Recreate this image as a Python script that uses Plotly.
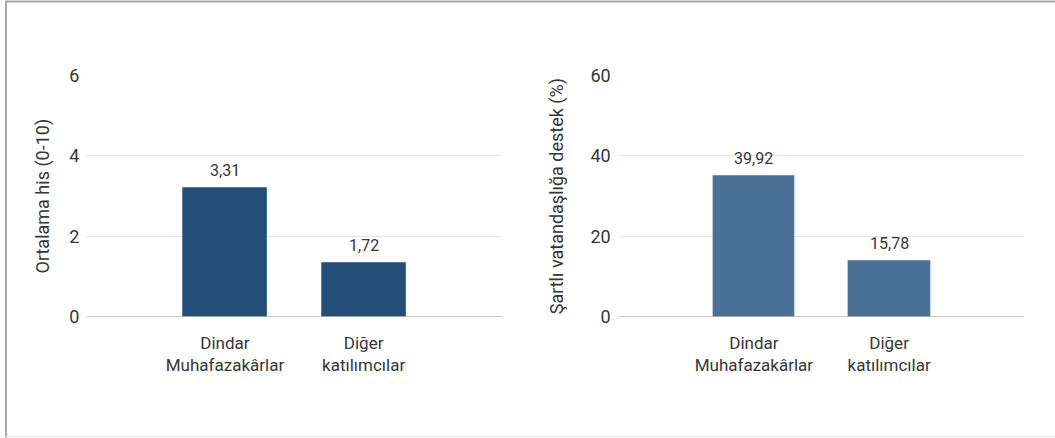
import plotly.graph_objects as go

W, H = 1055, 438

categories = ["Dindar<br>Muhafazakârlar", "Diğer<br>katılımcılar"]
feeling_values = [3.22, 1.36]
feeling_labels = ["3,31", "1,72"]
support_values = [35.2, 14.15]
support_labels = ["39,92", "15,78"]

left_ticks = [0, 2, 4, 6]
right_ticks = [0, 20, 40, 60]

FONT = "Roboto, Arial, sans-serif"
TXT = "#363636"

def px_x(p):
    return p / W

def px_y(p):
    return 1 - p / H

fig = go.Figure()
fig.add_trace(go.Bar(x=[0, 1], y=feeling_values, marker_color="#224e78",
                     width=0.61, xaxis="x", yaxis="y", showlegend=False, hoverinfo="skip"))
fig.add_trace(go.Bar(x=[0, 1], y=support_values, marker_color="#4b7096",
                     width=0.61, xaxis="x2", yaxis="y2", showlegend=False, hoverinfo="skip"))

ann = []
for i, (v, t) in enumerate(zip(feeling_values, feeling_labels)):
    ann.append(dict(x=i, y=v, text=t, xref="x", yref="y", showarrow=False,
                    yanchor="bottom", yshift=5, font=dict(size=16, color=TXT, family=FONT)))
for i, (v, t) in enumerate(zip(support_values, support_labels)):
    ann.append(dict(x=i, y=v, text=t, xref="x2", yref="y2", showarrow=False,
                    yanchor="bottom", yshift=5, font=dict(size=16, color=TXT, family=FONT)))

ytick_font = dict(size=18, color=TXT, family=FONT)
xtick_font = dict(size=17, color=TXT, family=FONT)

fig.update_layout(
    width=W, height=H,
    margin=dict(l=0, r=0, t=0, b=0, autoexpand=False),
    paper_bgcolor="white", plot_bgcolor="white",
    font=dict(family=FONT, color=TXT),
    bargap=0,
    xaxis=dict(domain=[px_x(86.3), px_x(502.3)], range=[-1, 2], tickmode="array",
               tickvals=[0, 1], ticktext=categories, showgrid=False, ticks="",
               ticklabelstandoff=14, tickfont=xtick_font, showline=False, zeroline=False,
               fixedrange=True, anchor="y"),
    yaxis=dict(domain=[px_y(317), px_y(75.3)], range=[0, 6], tickmode="array",
               tickvals=left_ticks, ticktext=[str(t) for t in left_ticks],
               showgrid=True, gridcolor="#e6e6e6", gridwidth=1, ticks="", ticklabelstandoff=6,
               tickfont=ytick_font, showline=False, zeroline=False, fixedrange=True,
               title=dict(text="Ortalama his (0-10)", font=dict(size=18, color=TXT, family=FONT), standoff=14),
               anchor="x"),
    xaxis2=dict(domain=[px_x(618.7), px_x(1024.3)], range=[-1, 2], tickmode="array",
                tickvals=[0, 1], ticktext=categories, showgrid=False, ticks="",
                ticklabelstandoff=14, tickfont=xtick_font, showline=False, zeroline=False,
                fixedrange=True, anchor="y2"),
    yaxis2=dict(domain=[px_y(317), px_y(75.3)], range=[0, 60], tickmode="array",
                tickvals=right_ticks, ticktext=[str(t) for t in right_ticks],
                showgrid=True, gridcolor="#e6e6e6", gridwidth=1, ticks="", ticklabelstandoff=7,
                tickfont=ytick_font, showline=False, zeroline=False, fixedrange=True,
                title=dict(text="Şartlı vatandaşlığa destek (%)", font=dict(size=18, color=TXT, family=FONT), standoff=22),
                anchor="x2"),
    annotations=ann,
    shapes=[
        dict(type="line", xref="x", yref="y", x0=-1, x1=2, y0=0, y1=0,
             line=dict(color="#b5b5b5", width=1.5)),
        dict(type="line", xref="x2", yref="y2", x0=-1, x1=2, y0=0, y1=0,
             line=dict(color="#b5b5b5", width=1.5)),
        dict(type="line", xref="paper", yref="paper", x0=px_x(6), x1=px_x(6), y0=px_y(1.5), y1=px_y(438),
             line=dict(color="#a8a8a8", width=2)),
        dict(type="line", xref="paper", yref="paper", x0=px_x(5), x1=1, y0=px_y(1.5), y1=px_y(1.5),
             line=dict(color="#a8a8a8", width=2)),
        dict(type="line", xref="paper", yref="paper", x0=px_x(5), x1=1, y0=px_y(436.5), y1=px_y(436.5),
             line=dict(color="#ececec", width=1)),
    ],
)

fig.write_html("out.html", config={"displayModeBar": False},
               post_script="document.body.style.margin='0';document.body.style.padding='0';")
